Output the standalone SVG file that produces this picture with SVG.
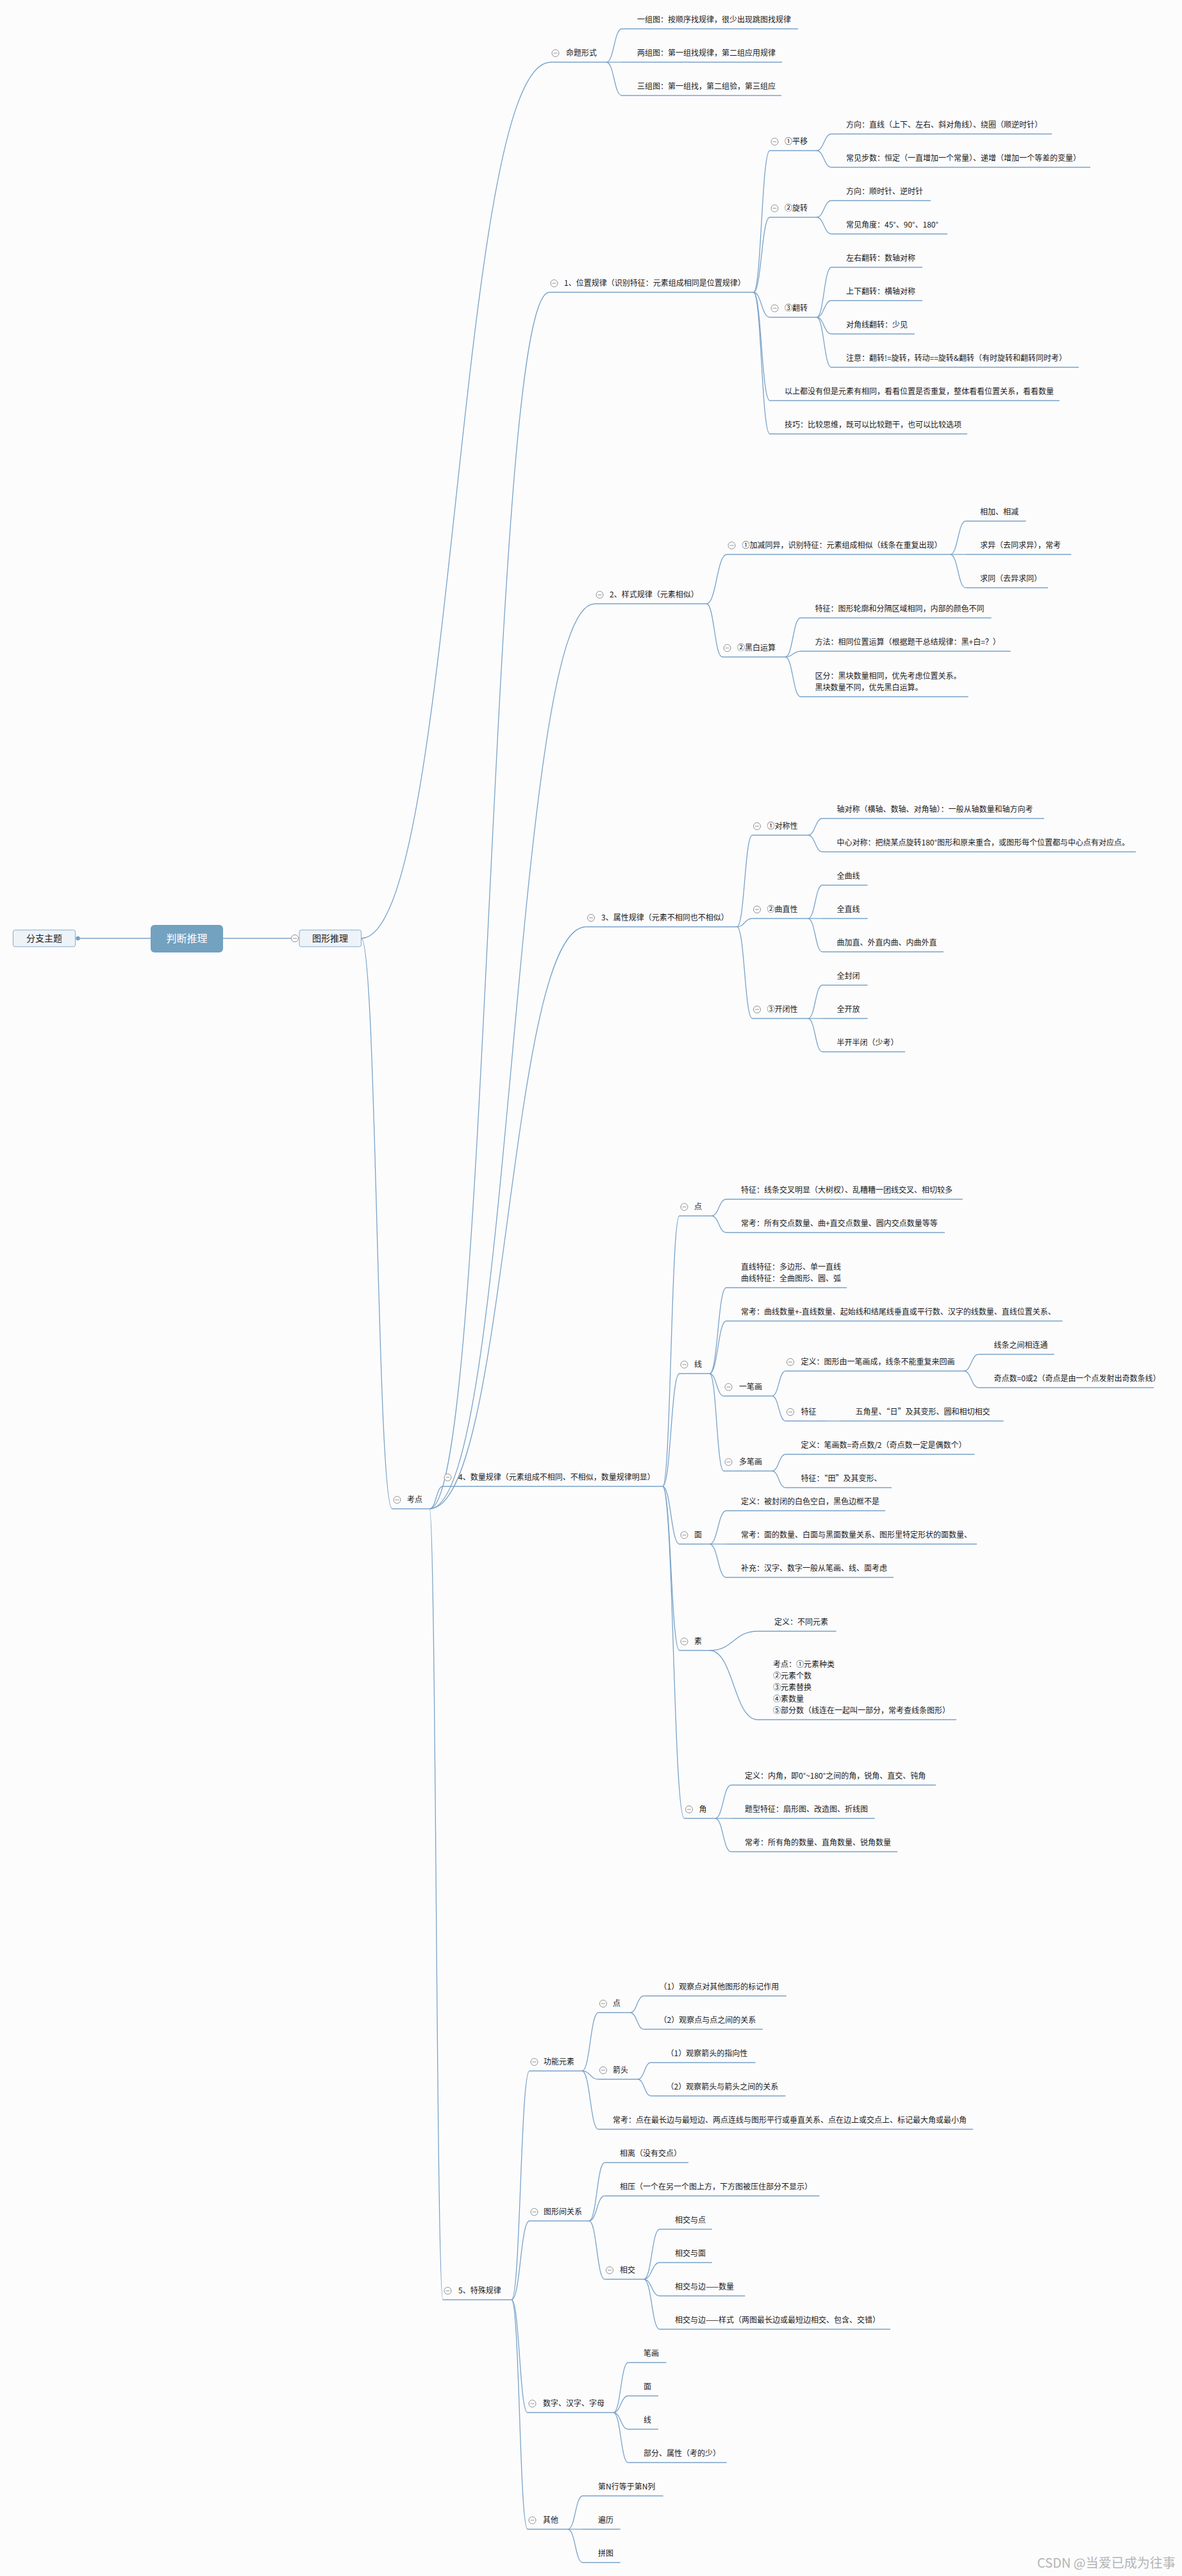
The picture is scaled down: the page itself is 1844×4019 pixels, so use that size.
<svg xmlns="http://www.w3.org/2000/svg" xmlns:xlink="http://www.w3.org/1999/xlink" width="1844" height="4019" viewBox="0 0 1844 4019">
<style>
.t{font-family:"Noto Sans CJK SC","Noto Sans",sans-serif;font-size:12px;fill:#1a1a1a}
.u{stroke:#7aa3c7;stroke-width:1.5;fill:none}
.c path{stroke:#7aa3c7;stroke-width:1.3;fill:none}
.bx{font-family:"Noto Sans CJK SC","Noto Sans",sans-serif;font-size:14px;fill:#1a1a1a;text-anchor:middle}
</style>
<defs>
<g id="tg"><circle r="5.5" fill="#fff" stroke="#8f8f8f" stroke-width="1"/><path d="M-3 0H3" stroke="#8f8f8f" stroke-width="1"/></g>
</defs>
<rect width="1844" height="4019" fill="#fcfcfd"/>

<g id="connectors" class="c">
<path d="M235 1464H124"/>
<path d="M348 1464H454.5"/>
<path d="M563.5 1464C711 1464 711 97 859 97"/>
<path d="M563.5 1464C588 1464 588 2354 612 2354"/>
<path d="M670 2354C763.5 2354 763.5 456 857 456"/>
<path d="M670 2354C799 2354 799 942 928 942"/>
<path d="M670 2354C792 2354 792 1446 914.7 1446"/>
<path d="M670 2354C680.5 2354 680.5 2319 691 2319"/>
<path d="M670 2354C680.5 2354 680.5 3588 691 3588"/>
<path d="M946 97C958 97 958 45 970 45"/>
<path d="M946 97H970"/>
<path d="M946 97C958 97 958 149 970 149"/>
<path d="M1175.5 456C1188 456 1188 235 1201 235"/>
<path d="M1175.5 456C1188 456 1188 339 1201 339"/>
<path d="M1175.5 456C1188 456 1188 495 1201 495"/>
<path d="M1175.5 456C1188 456 1188 625 1201 625"/>
<path d="M1175.5 456C1188 456 1188 677 1201 677"/>
<path d="M1274 235C1285.5 235 1285.5 209 1297 209"/>
<path d="M1274 235C1285.5 235 1285.5 261 1297 261"/>
<path d="M1274 339C1285.5 339 1285.5 313 1297 313"/>
<path d="M1274 339C1285.5 339 1285.5 365 1297 365"/>
<path d="M1274 495C1285.5 495 1285.5 417 1297 417"/>
<path d="M1274 495C1285.5 495 1285.5 469 1297 469"/>
<path d="M1274 495C1285.5 495 1285.5 521 1297 521"/>
<path d="M1274 495C1285.5 495 1285.5 573 1297 573"/>
<path d="M1102 942C1118 942 1118 865 1134 865"/>
<path d="M1102 942C1114.5 942 1114.5 1025 1127 1025"/>
<path d="M1482.5 865C1494.5 865 1494.5 813 1506.5 813"/>
<path d="M1482.5 865H1506.5"/>
<path d="M1482.5 865C1494.5 865 1494.5 917 1506.5 917"/>
<path d="M1225 1025C1237 1025 1237 964 1249 964"/>
<path d="M1225 1025C1237 1025 1237 1016 1249 1016"/>
<path d="M1225 1025C1237 1025 1237 1087 1249 1087"/>
<path d="M1149.7 1446C1161.7 1446 1161.7 1303 1173.7 1303"/>
<path d="M1149.7 1446C1161.7 1446 1161.7 1433 1173.7 1433"/>
<path d="M1149.7 1446C1161.7 1446 1161.7 1589 1173.7 1589"/>
<path d="M1260.6 1303C1271.8 1303 1271.8 1277 1283 1277"/>
<path d="M1260.6 1303C1271.8 1303 1271.8 1329 1283 1329"/>
<path d="M1260.6 1433C1271.8 1433 1271.8 1381 1283 1381"/>
<path d="M1260.6 1433H1283"/>
<path d="M1260.6 1433C1271.8 1433 1271.8 1485 1283 1485"/>
<path d="M1260.6 1589C1271.8 1589 1271.8 1537 1283 1537"/>
<path d="M1260.6 1589H1283"/>
<path d="M1260.6 1589C1271.8 1589 1271.8 1641 1283 1641"/>
<path d="M1033.7 2319C1046.8 2319 1046.8 1897 1060 1897"/>
<path d="M1033.7 2319C1046.8 2319 1046.8 2143 1060 2143"/>
<path d="M1033.7 2319C1046.8 2319 1046.8 2409 1060 2409"/>
<path d="M1033.7 2319C1046.8 2319 1046.8 2575 1060 2575"/>
<path d="M1033.7 2319C1050.6 2319 1050.6 2837 1067.6 2837"/>
<path d="M1110 1897C1121.5 1897 1121.5 1871 1133 1871"/>
<path d="M1110 1897C1121.5 1897 1121.5 1923 1133 1923"/>
<path d="M1107 2143C1120 2143 1120 2009 1133 2009"/>
<path d="M1107 2143C1120 2143 1120 2061 1133 2061"/>
<path d="M1107 2143C1118 2143 1118 2178 1129 2178"/>
<path d="M1107 2143C1118 2143 1118 2295 1129 2295"/>
<path d="M1204.5 2178C1215 2178 1215 2139 1225.6 2139"/>
<path d="M1204.5 2178C1215 2178 1215 2217 1225.6 2217"/>
<path d="M1504 2139C1515.3 2139 1515.3 2113 1526.6 2113"/>
<path d="M1504 2139C1515.3 2139 1515.3 2165 1526.6 2165"/>
<path d="M1290 2217H1310"/>
<path d="M1204.5 2295C1215 2295 1215 2269 1225.6 2269"/>
<path d="M1204.5 2295C1215 2295 1215 2321 1225.6 2321"/>
<path d="M1107 2409C1120 2409 1120 2357 1133 2357"/>
<path d="M1107 2409H1133"/>
<path d="M1107 2409C1120 2409 1120 2461 1133 2461"/>
<path d="M1107 2575C1144.5 2575 1144.5 2545 1182 2545"/>
<path d="M1107 2575C1144.5 2575 1144.5 2683 1182 2683"/>
<path d="M1115.7 2837C1128.2 2837 1128.2 2785 1140.6 2785"/>
<path d="M1115.7 2837H1140.6"/>
<path d="M1115.7 2837C1128.2 2837 1128.2 2889 1140.6 2889"/>
<path d="M798 3588C812 3588 812 3231 826 3231"/>
<path d="M798 3588C812 3588 812 3465 826 3465"/>
<path d="M798 3588C810.5 3588 810.5 3764 823 3764"/>
<path d="M798 3588C810.5 3588 810.5 3946 823 3946"/>
<path d="M908 3231C920.8 3231 920.8 3140 933.6 3140"/>
<path d="M908 3231C920.8 3231 920.8 3244 933.6 3244"/>
<path d="M908 3231C920.8 3231 920.8 3322 933.6 3322"/>
<path d="M983 3140C993.8 3140 993.8 3114 1004.5 3114"/>
<path d="M983 3140C993.8 3140 993.8 3166 1004.5 3166"/>
<path d="M995 3244C1005.3 3244 1005.3 3218 1015.5 3218"/>
<path d="M995 3244C1005.3 3244 1005.3 3270 1015.5 3270"/>
<path d="M919 3465C931.2 3465 931.2 3374 943.3 3374"/>
<path d="M919 3465C931.2 3465 931.2 3426 943.3 3426"/>
<path d="M919 3465C931.2 3465 931.2 3556 943.3 3556"/>
<path d="M1004.5 3556C1016.8 3556 1016.8 3478 1029 3478"/>
<path d="M1004.5 3556C1016.8 3556 1016.8 3530 1029 3530"/>
<path d="M1004.5 3556C1016.8 3556 1016.8 3582 1029 3582"/>
<path d="M1004.5 3556C1016.8 3556 1016.8 3634 1029 3634"/>
<path d="M957 3764C968.5 3764 968.5 3686 980 3686"/>
<path d="M957 3764C968.5 3764 968.5 3738 980 3738"/>
<path d="M957 3764C968.5 3764 968.5 3790 980 3790"/>
<path d="M957 3764C968.5 3764 968.5 3842 980 3842"/>
<path d="M886 3946C897.5 3946 897.5 3894 909 3894"/>
<path d="M886 3946H909"/>
<path d="M886 3946C897.5 3946 897.5 3998 909 3998"/>
</g>
<circle cx="121.5" cy="1464" r="3.2" fill="#73a1c0"/>

<g id="n_root"><rect x="235" y="1443" width="113" height="43" rx="6" fill="#73a1c0"/><text x="291.5" y="1470" text-anchor="middle" font-family="Noto Sans CJK SC, Noto Sans, sans-serif" font-size="16" fill="#fff">判断推理</text></g>
<g id="n_fzzt"><rect x="20.5" y="1451" width="97" height="26" rx="3" fill="#eef3f8" stroke="#86abc8"/><text class="bx" x="69" y="1469">分支主题</text></g>
<g id="n_txtl"><use href="#tg" x="460" y="1464"/><rect x="467" y="1451" width="96.5" height="26" rx="3" fill="#eef3f8" stroke="#86abc8"/><text class="bx" x="515" y="1469">图形推理</text></g>

<g id="n_mtxs"><use href="#tg" x="866.5" y="83"/><text class="t" x="883" y="87">命题形式</text><line class="u" x1="859" y1="97" x2="946" y2="97"/></g>
<g id="n_mt1"><text class="t" x="994" y="35">一组图：按顺序找规律，很少出现跳图找规律</text><line class="u" x1="970" y1="45" x2="1245" y2="45"/></g>
<g id="n_mt2"><text class="t" x="994" y="87">两组图：第一组找规律，第二组应用规律</text><line class="u" x1="970" y1="97" x2="1220" y2="97"/></g>
<g id="n_mt3"><text class="t" x="994" y="139">三组图：第一组找，第二组验，第三组应</text><line class="u" x1="970" y1="149" x2="1219" y2="149"/></g>

<g id="n_kd"><use href="#tg" x="619.5" y="2340"/><text class="t" x="635" y="2344">考点</text><line class="u" x1="612" y1="2354" x2="670" y2="2354"/></g>

<g id="n_wz"><use href="#tg" x="864.5" y="442"/><text class="t" x="880" y="446">1、位置规律（识别特征：元素组成相同是位置规律）</text><line class="u" x1="857" y1="456" x2="1175.5" y2="456"/></g>
<g id="n_py"><use href="#tg" x="1208.5" y="221"/><text class="t" x="1224" y="225">①平移</text><line class="u" x1="1201" y1="235" x2="1274" y2="235"/></g>
<g id="n_py1"><text class="t" x="1320" y="199">方向：直线（上下、左右、斜对角线）、绕圈（顺逆时针）</text><line class="u" x1="1297" y1="209" x2="1641" y2="209"/></g>
<g id="n_py2"><text class="t" x="1320" y="251">常见步数：恒定（一直增加一个常量）、递增（增加一个等差的变量）</text><line class="u" x1="1297" y1="261" x2="1701" y2="261"/></g>
<g id="n_xz"><use href="#tg" x="1208.5" y="325"/><text class="t" x="1224" y="329">②旋转</text><line class="u" x1="1201" y1="339" x2="1274" y2="339"/></g>
<g id="n_xz1"><text class="t" x="1320" y="303">方向：顺时针、逆时针</text><line class="u" x1="1297" y1="313" x2="1452" y2="313"/></g>
<g id="n_xz2"><text class="t" x="1320" y="355">常见角度：45°、90°、180°</text><line class="u" x1="1297" y1="365" x2="1478" y2="365"/></g>
<g id="n_fz"><use href="#tg" x="1208.5" y="481"/><text class="t" x="1224" y="485">③翻转</text><line class="u" x1="1201" y1="495" x2="1274" y2="495"/></g>
<g id="n_fz1"><text class="t" x="1320" y="407">左右翻转：数轴对称</text><line class="u" x1="1297" y1="417" x2="1439" y2="417"/></g>
<g id="n_fz2"><text class="t" x="1320" y="459">上下翻转：横轴对称</text><line class="u" x1="1297" y1="469" x2="1439" y2="469"/></g>
<g id="n_fz3"><text class="t" x="1320" y="511">对角线翻转：少见</text><line class="u" x1="1297" y1="521" x2="1427" y2="521"/></g>
<g id="n_fz4"><text class="t" x="1320" y="563">注意：翻转!=旋转，转动==旋转&amp;翻转（有时旋转和翻转同时考）</text><line class="u" x1="1297" y1="573" x2="1683" y2="573"/></g>
<g id="n_wz4"><text class="t" x="1224" y="615">以上都没有但是元素有相同，看看位置是否重复，整体看看位置关系，看看数量</text><line class="u" x1="1201" y1="625" x2="1653" y2="625"/></g>
<g id="n_wz5"><text class="t" x="1224" y="667">技巧：比较思维，既可以比较题干，也可以比较选项</text><line class="u" x1="1201" y1="677" x2="1509" y2="677"/></g>

<g id="n_ys"><use href="#tg" x="935.5" y="928"/><text class="t" x="951" y="932">2、样式规律（元素相似）</text><line class="u" x1="928" y1="942" x2="1102" y2="942"/></g>
<g id="n_jj"><use href="#tg" x="1141.5" y="851"/><text class="t" x="1157.5" y="855">①加减同异，识别特征：元素组成相似（线条在重复出现）</text><line class="u" x1="1134" y1="865" x2="1482.5" y2="865"/></g>
<g id="n_jj1"><text class="t" x="1529" y="803">相加、相减</text><line class="u" x1="1506.5" y1="813" x2="1600.6" y2="813"/></g>
<g id="n_jj2"><text class="t" x="1529" y="855">求异（去同求异），常考</text><line class="u" x1="1506.5" y1="865" x2="1671" y2="865"/></g>
<g id="n_jj3"><text class="t" x="1529" y="907">求同（去异求同）</text><line class="u" x1="1506.5" y1="917" x2="1635" y2="917"/></g>
<g id="n_hb"><use href="#tg" x="1134.5" y="1011"/><text class="t" x="1150" y="1015">②黑白运算</text><line class="u" x1="1127" y1="1025" x2="1225" y2="1025"/></g>
<g id="n_hb1"><text class="t" x="1271.5" y="954">特征：图形轮廓和分隔区域相同，内部的颜色不同</text><line class="u" x1="1249" y1="964" x2="1546.6" y2="964"/></g>
<g id="n_hb2"><text class="t" x="1271.5" y="1006">方法：相同位置运算（根据题干总结规律：黑+白=？）</text><line class="u" x1="1249" y1="1016" x2="1576.6" y2="1016"/></g>
<g id="n_hb3"><text class="t" x="1271.5" y="1059">区分：黑块数量相同，优先考虑位置关系。<tspan x="1271.5" dy="18">黑块数量不同，优先黑白运算。</tspan></text><line class="u" x1="1249" y1="1087" x2="1510.6" y2="1087"/></g>

<g id="n_sx"><use href="#tg" x="922" y="1432"/><text class="t" x="938" y="1436">3、属性规律（元素不相同也不相似）</text><line class="u" x1="914.7" y1="1446" x2="1149.7" y2="1446"/></g>
<g id="n_dc"><use href="#tg" x="1181" y="1289"/><text class="t" x="1196.5" y="1293">①对称性</text><line class="u" x1="1173.7" y1="1303" x2="1260.6" y2="1303"/></g>
<g id="n_dc1"><text class="t" x="1305.5" y="1267">轴对称（横轴、数轴、对角轴）：一般从轴数量和轴方向考</text><line class="u" x1="1283" y1="1277" x2="1629" y2="1277"/></g>
<g id="n_dc2"><text class="t" x="1305.5" y="1319">中心对称：把绕某点旋转180°图形和原来重合，或图形每个位置都与中心点有对应点。</text><line class="u" x1="1283" y1="1329" x2="1772" y2="1329"/></g>
<g id="n_qz"><use href="#tg" x="1181" y="1419"/><text class="t" x="1196.5" y="1423">②曲直性</text><line class="u" x1="1173.7" y1="1433" x2="1260.6" y2="1433"/></g>
<g id="n_qz1"><text class="t" x="1305.5" y="1371">全曲线</text><line class="u" x1="1283" y1="1381" x2="1353.6" y2="1381"/></g>
<g id="n_qz2"><text class="t" x="1305.5" y="1423">全直线</text><line class="u" x1="1283" y1="1433" x2="1353.6" y2="1433"/></g>
<g id="n_qz3"><text class="t" x="1305.5" y="1475">曲加直、外直内曲、内曲外直</text><line class="u" x1="1283" y1="1485" x2="1472" y2="1485"/></g>
<g id="n_kb"><use href="#tg" x="1181" y="1575"/><text class="t" x="1196.5" y="1579">③开闭性</text><line class="u" x1="1173.7" y1="1589" x2="1260.6" y2="1589"/></g>
<g id="n_kb1"><text class="t" x="1305.5" y="1527">全封闭</text><line class="u" x1="1283" y1="1537" x2="1353.6" y2="1537"/></g>
<g id="n_kb2"><text class="t" x="1305.5" y="1579">全开放</text><line class="u" x1="1283" y1="1589" x2="1353.6" y2="1589"/></g>
<g id="n_kb3"><text class="t" x="1305.5" y="1631">半开半闭（少考）</text><line class="u" x1="1283" y1="1641" x2="1412" y2="1641"/></g>

<g id="n_sl"><use href="#tg" x="698.5" y="2305"/><text class="t" x="715" y="2309">4、数量规律（元素组成不相同、不相似，数量规律明显）</text><line class="u" x1="691" y1="2319" x2="1033.7" y2="2319"/></g>
<g id="n_d"><use href="#tg" x="1067.5" y="1883"/><text class="t" x="1083" y="1887">点</text><line class="u" x1="1060" y1="1897" x2="1110" y2="1897"/></g>
<g id="n_d1"><text class="t" x="1156" y="1861">特征：线条交叉明显（大树杈）、乱糟糟一团线交叉、相切较多</text><line class="u" x1="1133" y1="1871" x2="1501.7" y2="1871"/></g>
<g id="n_d2"><text class="t" x="1156" y="1913">常考：所有交点数量、曲+直交点数量、圆内交点数量等等</text><line class="u" x1="1133" y1="1923" x2="1474" y2="1923"/></g>
<g id="n_x"><use href="#tg" x="1067.5" y="2129"/><text class="t" x="1083" y="2133">线</text><line class="u" x1="1060" y1="2143" x2="1107" y2="2143"/></g>
<g id="n_x1"><text class="t" x="1156" y="1981">直线特征：多边形、单一直线<tspan x="1156" dy="18">曲线特征：全曲图形、圆、弧</tspan></text><line class="u" x1="1133" y1="2009" x2="1321" y2="2009"/></g>
<g id="n_x2"><text class="t" x="1156" y="2051">常考：曲线数量+-直线数量、起始线和结尾线垂直或平行数、汉字的线数量、直线位置关系、</text><line class="u" x1="1133" y1="2061" x2="1657.5" y2="2061"/></g>
<g id="n_ybh"><use href="#tg" x="1136.5" y="2164"/><text class="t" x="1153" y="2168">一笔画</text><line class="u" x1="1129" y1="2178" x2="1204.5" y2="2178"/></g>
<g id="n_ybh1"><use href="#tg" x="1233" y="2125"/><text class="t" x="1249.5" y="2129">定义：图形由一笔画成，线条不能重复来回画</text><line class="u" x1="1225.6" y1="2139" x2="1504" y2="2139"/></g>
<g id="n_ybh11"><text class="t" x="1550.5" y="2103">线条之间相连通</text><line class="u" x1="1526.6" y1="2113" x2="1644.7" y2="2113"/></g>
<g id="n_ybh12"><text class="t" x="1550.5" y="2155">奇点数=0或2（奇点是由一个点发射出奇数条线）</text><line class="u" x1="1526.6" y1="2165" x2="1800" y2="2165"/></g>
<g id="n_ybh2"><use href="#tg" x="1233" y="2203"/><text class="t" x="1249.5" y="2207">特征</text><line class="u" x1="1225.6" y1="2217" x2="1290" y2="2217"/></g>
<g id="n_ybh21"><text class="t" x="1334.5" y="2207">五角星、“日”及其变形、圆和相切相交</text><line class="u" x1="1310" y1="2217" x2="1565.7" y2="2217"/></g>
<g id="n_dbh"><use href="#tg" x="1136.5" y="2281"/><text class="t" x="1153" y="2285">多笔画</text><line class="u" x1="1129" y1="2295" x2="1204.5" y2="2295"/></g>
<g id="n_dbh1"><text class="t" x="1249.5" y="2259">定义：笔画数=奇点数/2（奇点数一定是偶数个）</text><line class="u" x1="1225.6" y1="2269" x2="1520.6" y2="2269"/></g>
<g id="n_dbh2"><text class="t" x="1249.5" y="2311">特征：“田”及其变形、</text><line class="u" x1="1225.6" y1="2321" x2="1391" y2="2321"/></g>
<g id="n_m"><use href="#tg" x="1067.5" y="2395"/><text class="t" x="1083" y="2399">面</text><line class="u" x1="1060" y1="2409" x2="1107" y2="2409"/></g>
<g id="n_m1"><text class="t" x="1156" y="2347">定义：被封闭的白色空白，黑色边框不是</text><line class="u" x1="1133" y1="2357" x2="1381" y2="2357"/></g>
<g id="n_m2"><text class="t" x="1156" y="2399">常考：面的数量、白面与黑面数量关系、图形里特定形状的面数量、</text><line class="u" x1="1133" y1="2409" x2="1524" y2="2409"/></g>
<g id="n_m3"><text class="t" x="1156" y="2451">补充：汉字、数字一般从笔画、线、面考虑</text><line class="u" x1="1133" y1="2461" x2="1394" y2="2461"/></g>
<g id="n_s"><use href="#tg" x="1067.5" y="2561"/><text class="t" x="1083" y="2565">素</text><line class="u" x1="1060" y1="2575" x2="1107" y2="2575"/></g>
<g id="n_s1"><text class="t" x="1208" y="2535">定义：不同元素</text><line class="u" x1="1182" y1="2545" x2="1304.6" y2="2545"/></g>
<g id="n_s2"><text class="t" x="1206" y="2601">考点：①元素种类<tspan x="1206" dy="18">②元素个数</tspan><tspan x="1206" dy="18">③元素替换</tspan><tspan x="1206" dy="18">④素数量</tspan><tspan x="1206" dy="18">⑤部分数（线连在一起叫一部分，常考查线条图形）</tspan></text><line class="u" x1="1182" y1="2683" x2="1492" y2="2683"/></g>
<g id="n_j"><use href="#tg" x="1075" y="2823"/><text class="t" x="1090.5" y="2827">角</text><line class="u" x1="1067.6" y1="2837" x2="1115.7" y2="2837"/></g>
<g id="n_j1"><text class="t" x="1162" y="2775">定义：内角，即0°~180°之间的角，锐角、直交、钝角</text><line class="u" x1="1140.6" y1="2785" x2="1460" y2="2785"/></g>
<g id="n_j2"><text class="t" x="1162" y="2827">题型特征：扇形图、改造图、折线图</text><line class="u" x1="1140.6" y1="2837" x2="1364.8" y2="2837"/></g>
<g id="n_j3"><text class="t" x="1162" y="2879">常考：所有角的数量、直角数量、锐角数量</text><line class="u" x1="1140.6" y1="2889" x2="1400" y2="2889"/></g>

<g id="n_ts"><use href="#tg" x="698.5" y="3574"/><text class="t" x="715" y="3578">5、特殊规律</text><line class="u" x1="691" y1="3588" x2="798" y2="3588"/></g>
<g id="n_gn"><use href="#tg" x="833.5" y="3217"/><text class="t" x="848" y="3221">功能元素</text><line class="u" x1="826" y1="3231" x2="908" y2="3231"/></g>
<g id="n_gnd"><use href="#tg" x="941" y="3126"/><text class="t" x="956" y="3130">点</text><line class="u" x1="933.6" y1="3140" x2="983" y2="3140"/></g>
<g id="n_gnd1"><text class="t" x="1028.5" y="3104">（1）观察点对其他图形的标记作用</text><line class="u" x1="1004.5" y1="3114" x2="1226.8" y2="3114"/></g>
<g id="n_gnd2"><text class="t" x="1028.5" y="3156">（2）观察点与点之间的关系</text><line class="u" x1="1004.5" y1="3166" x2="1190" y2="3166"/></g>
<g id="n_jt"><use href="#tg" x="941" y="3230"/><text class="t" x="956" y="3234">箭头</text><line class="u" x1="933.6" y1="3244" x2="995" y2="3244"/></g>
<g id="n_jt1"><text class="t" x="1039.5" y="3208">（1）观察箭头的指向性</text><line class="u" x1="1015.5" y1="3218" x2="1178.5" y2="3218"/></g>
<g id="n_jt2"><text class="t" x="1039.5" y="3260">（2）观察箭头与箭头之间的关系</text><line class="u" x1="1015.5" y1="3270" x2="1225.5" y2="3270"/></g>
<g id="n_gn3"><text class="t" x="956" y="3312">常考：点在最长边与最短边、两点连线与图形平行或垂直关系、点在边上或交点上、标记最大角或最小角</text><line class="u" x1="933.6" y1="3322" x2="1518" y2="3322"/></g>
<g id="n_tx"><use href="#tg" x="833.5" y="3451"/><text class="t" x="848" y="3455">图形间关系</text><line class="u" x1="826" y1="3465" x2="919" y2="3465"/></g>
<g id="n_tx1"><text class="t" x="967" y="3364">相离（没有交点）</text><line class="u" x1="943.3" y1="3374" x2="1074" y2="3374"/></g>
<g id="n_tx2"><text class="t" x="967" y="3416">相压（一个在另一个图上方，下方图被压住部分不显示）</text><line class="u" x1="943.3" y1="3426" x2="1278.4" y2="3426"/></g>
<g id="n_xj"><use href="#tg" x="951" y="3542"/><text class="t" x="967" y="3546">相交</text><line class="u" x1="943.3" y1="3556" x2="1004.5" y2="3556"/></g>
<g id="n_xj1"><text class="t" x="1053" y="3468">相交与点</text><line class="u" x1="1029" y1="3478" x2="1110.8" y2="3478"/></g>
<g id="n_xj2"><text class="t" x="1053" y="3520">相交与面</text><line class="u" x1="1029" y1="3530" x2="1110.8" y2="3530"/></g>
<g id="n_xj3"><text class="t" x="1053" y="3572">相交与边——数量</text><line class="u" x1="1029" y1="3582" x2="1162.4" y2="3582"/></g>
<g id="n_xj4"><text class="t" x="1053" y="3624">相交与边——样式（两图最长边或最短边相交、包含、交错）</text><line class="u" x1="1029" y1="3634" x2="1389" y2="3634"/></g>
<g id="n_sz"><use href="#tg" x="830.5" y="3750"/><text class="t" x="847" y="3754">数字、汉字、字母</text><line class="u" x1="823" y1="3764" x2="957" y2="3764"/></g>
<g id="n_sz1"><text class="t" x="1004" y="3676">笔画</text><line class="u" x1="980" y1="3686" x2="1039.6" y2="3686"/></g>
<g id="n_sz2"><text class="t" x="1004" y="3728">面</text><line class="u" x1="980" y1="3738" x2="1027" y2="3738"/></g>
<g id="n_sz3"><text class="t" x="1004" y="3780">线</text><line class="u" x1="980" y1="3790" x2="1027" y2="3790"/></g>
<g id="n_sz4"><text class="t" x="1004" y="3832">部分、属性（考的少）</text><line class="u" x1="980" y1="3842" x2="1133.8" y2="3842"/></g>
<g id="n_qt"><use href="#tg" x="830.5" y="3932"/><text class="t" x="847" y="3936">其他</text><line class="u" x1="823" y1="3946" x2="886" y2="3946"/></g>
<g id="n_qt1"><text class="t" x="933" y="3884">第N行等于第N列</text><line class="u" x1="909" y1="3894" x2="1034.7" y2="3894"/></g>
<g id="n_qt2"><text class="t" x="933" y="3936">遍历</text><line class="u" x1="909" y1="3946" x2="967.7" y2="3946"/></g>
<g id="n_qt3"><text class="t" x="933" y="3988">拼图</text><line class="u" x1="909" y1="3998" x2="967.7" y2="3998"/></g>

<text x="1618" y="4006" font-family="Noto Sans CJK SC, Noto Sans, sans-serif" font-size="20" fill="#b4b4b4">CSDN @当爱已成为往事</text>
</svg>
